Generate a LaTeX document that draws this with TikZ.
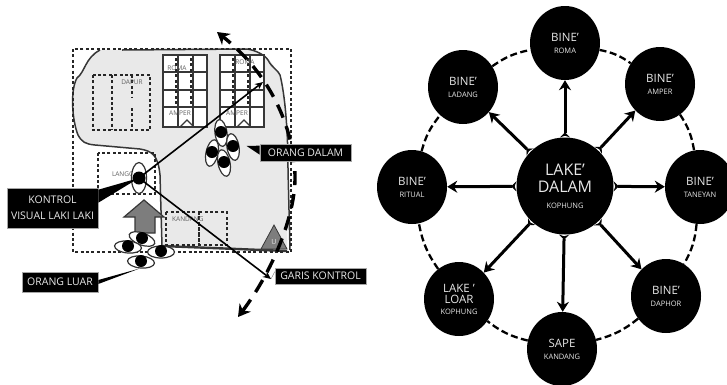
\documentclass[tikz,border=0pt]{standalone}
\usepackage{fontspec}
\setmainfont{Open Sans}
\usetikzlibrary{arrows.meta, shapes.geometric, positioning, calc}
\definecolor{paletext}{RGB}{232,232,232}
\definecolor{wallgray}{RGB}{55,55,55}
\definecolor{yardgray}{RGB}{233,233,233}
\definecolor{markgray}{RGB}{125,125,125}
\newcommand{\sublabel}[1]{{\fontsize{7.5}{8}\selectfont #1}}

\begin{document}
\begin{tikzpicture}[
        x=1pt, y=-1pt,
        bubble/.style={ellipse, fill=black, text=paletext, inner sep=0pt, minimum width=70pt, minimum height=74pt, align=center, font=\fontsize{11.5}{13}\selectfont},
        hub/.style={bubble, minimum width=97pt, minimum height=97pt, font=\fontsize{16}{19}\selectfont},
        arrow/.style={{Stealth[reversed, length=5pt, width=10pt]}-{Stealth[length=10pt, width=12pt]}, line width=3pt},
        ring/.style={dashed, dash pattern=on 7pt off 3.5pt, line width=2.3pt},
        caption/.style={rectangle, fill=black, draw=gray!70, line width=0.6pt, text=paletext, inner sep=0pt, align=center, font=\fontsize{10.5}{16}\selectfont},
        plan/.style={dashed, dash pattern=on 3pt off 2.4pt, line width=1.8pt, color=black!85},
        tag/.style={text=gray!75!black, inner sep=0pt, font=\fontsize{6.5}{7}\selectfont},
        eyering/.style={ellipse, draw=black!80, fill=white, line width=1.2pt, inner sep=0pt, minimum width=12pt, minimum height=27pt},
        sight/.style={-{Stealth[length=8pt, width=7pt]}, line width=1.6pt}
    ]
    \useasboundingbox (0,0) rectangle (727,384);

    % Plan on the left
    \fill[yardgray] (100,50) .. controls (85,58) and (85,72) .. (77,78) .. controls (70,90) and (72,120) .. (78,135)
        .. controls (82,142) and (85,144) .. (95,145) -- (140,149) .. controls (152,151) and (158,155) .. (160,175)
        -- (162,246) -- (287,251) -- (289,170) .. controls (288,130) and (285,95) .. (278,72)
        .. controls (273,65) and (270,60) .. (265,56) -- (247,48) -- cycle;
    \draw[wallgray, line width=1.5pt] (122,50) -- (247,49) .. controls (255,50) and (265,55) .. (268,60)
        .. controls (272,68) and (278,70) .. (280,75) .. controls (285,95) and (288,130) .. (288,170) -- (290,250);
    \draw[wallgray, line width=1.5pt] (100,50) .. controls (85,58) and (85,72) .. (77,78) .. controls (70,90) and (72,120) .. (78,135)
        .. controls (82,142) and (85,144) .. (95,145) -- (140,149) .. controls (152,151) and (158,155) .. (160,175) -- (162,246);
    \draw[wallgray, line width=2.4pt] (162,246) -- (287,251);
    \draw[plan] (73,49) rectangle (291,252);

    % Dapur
    \draw[plan] (93,75) rectangle (150,130);
    \draw[plan] (112,75) -- (112,130);
    \draw[plan] (132,75) -- (132,98);
    \draw[plan] (132,108) -- (132,130);
    \node[tag] (dapur) at (132,82) {DAPUR};

    % Rows of amper
    \foreach \gx in {163,220}{
        \draw[wallgray, line width=1.8pt, fill=white] (\gx,55) rectangle (\gx+44,127);
        \foreach \gy in {72,107}
            \draw[wallgray, line width=1.8pt] (\gx,\gy) -- (\gx+44,\gy);
        \draw[wallgray, line width=1.4pt] (\gx,90) -- (\gx+44,90);
        \foreach \gk in {15,30}
            \draw[wallgray, line width=1.8pt] (\gx+\gk,55) -- (\gx+\gk,127);
        \foreach \gk in {15,30}
            \draw[plan, line width=1.1pt] (\gx+\gk-2,58) -- (\gx+\gk-2,105);
        \draw[wallgray, line width=1.2pt] (\gx+17,127) -- (\gx+24,120) -- (\gx+31,127);
    }
    \node[tag] (ampera) at (180,113) {AMPER};
    \node[tag] (amperb) at (237,113) {AMPER};
    \node[tag] (romaa) at (177,68) {ROMA};
    \node[tag] (romab) at (245,62) {ROMA};

    % Langgar and kandang
    \draw[plan] (98,153) rectangle (155,194);
    \draw[plan] (98,194) -- (98,200);
    \node[tag] (langgar) at (127,174) {LANGGAR};
    \draw[plan] (166,212) rectangle (199,245);
    \draw[plan] (199,212) rectangle (227,245);
    \node[tag, anchor=west] (kandang) at (172,219) {KANDANG};

    % Sumur
    \fill[markgray, draw=wallgray, line width=0.8pt] (274,225) -- (287,249) -- (261,249) -- cycle;
    \node[text=paletext, inner sep=0pt, font=\fontsize{7}{7}\selectfont] (sumur) at (274,242) {U};

    % Entrance
    \path[fill=markgray, draw=wallgray, line width=1.2pt] (144,200) -- (164,217) -- (155,217) -- (155,233) -- (135,233) -- (135,217) -- (124,217) -- cycle;

    % Eyes
    \node[eyering, minimum width=15pt, minimum height=31pt] (kontrolEye) at (139,178) {};
    \fill (139,178) circle (6.5);
    \foreach \ex/\ey/\er/\en in {221/133/8/a, 212/153/-12/b, 233/147/10/c, 224/163/12/d}{
        \node[eyering, rotate=\er] (dalam\en) at (\ex,\ey) {};
        \fill (\ex,\ey-1) circle (6);
    }
    \foreach \ex/\ey/\er/\en in {142/239/70/a, 128/247/85/b, 161/252/90/c, 141/262/85/d}{
        \node[eyering, rotate=\er] (luar\en) at (\ex,\ey) {};
        \fill (\ex,\ey-1) circle (6);
    }

    % Sight lines
    \coordinate (sightTop) at (263,82);
    \coordinate (sightBot) at (271,279);
    \draw[sight] (kontrolEye.center) -- (sightTop);
    \draw[sight] (kontrolEye.center) -- (sightBot);

    % Double arrow round the plan
    \coordinate (routeLow) at (238,317);
    \coordinate (routeMid) at (295,175);
    \coordinate (routeTop) at (217,32);
    \draw[{Stealth[length=12pt, width=14pt]}-{Stealth[length=12pt, width=14pt]}, dashed, dash pattern=on 14pt off 9pt, line width=3.4pt]
        (routeLow) .. controls (272,272) and (296,215) .. (routeMid) .. controls (293,120) and (265,70) .. (routeTop);

    % Captions
    \node[caption, minimum width=91pt, minimum height=40pt] (kontrol) at (52.5,208) {KONTROL\\VISUAL LAKI LAKI};
    \node[caption, minimum width=76pt, minimum height=20pt] (luar) at (60,282) {ORANG LUAR};
    \node[caption, minimum width=91pt, minimum height=17pt] (dalam) at (305.5,152.5) {ORANG DALAM};
    \node[caption, minimum width=91pt, minimum height=16pt] (garis) at (320.5,276) {GARIS KONTROL};

    \fill ([yshift=-2pt]kontrol.north east) -- (kontrolEye.center) -- ([yshift=-15pt]kontrol.north east) -- cycle;
    \fill ([yshift=2pt]luar.east) -- ([xshift=-1pt]luard.west) -- ([yshift=-2pt]luar.east) -- cycle;
    \fill ([yshift=-2pt]dalam.north west) -- ([xshift=7pt]dalamc.east) -- ([yshift=-11pt]dalam.north west) -- cycle;
    \draw[thin, gray] ([yshift=-4pt]garis.north west) -- (sightBot);

    % Ring diagram on the right
    \node[hub] (lake) at (565,186) {LAKE'\\[-2pt]DALAM\\[-3pt]\sublabel{KOPHUNG}};
    \node[bubble] (roma) at (565,43) {BINE'\\[-1pt]\sublabel{ROMA}};
    \node[bubble] (amper) at (660,84) {BINE'\\[-1pt]\sublabel{AMPER}};
    \node[bubble] (taneyan) at (700,187) {BINE'\\[-1pt]\sublabel{TANEYAN}};
    \node[bubble] (daphor) at (666,296) {BINE'\\[-1pt]\sublabel{DAPHOR}};
    \node[bubble] (sape) at (562,349) {SAPE\\[-1pt]\sublabel{KANDANG}};
    \node[bubble] (loar) at (459,299) {LAKE '\\[-2pt]LOAR\\[-2pt]\sublabel{KOPHUNG}};
    \node[bubble] (ritual) at (412,187) {BINE'\\[-1pt]\sublabel{RITUAL}};
    \node[bubble] (ladang) at (463,87) {BINE'\\[-1pt]\sublabel{LADANG}};

    \foreach \nbr in {roma, amper, taneyan, daphor, sape, loar, ritual, ladang}
        \draw[arrow] (lake) -- (\nbr);

    \draw[ring, bend left=12] (roma) to (amper);
    \draw[ring, bend left=12] (amper) to (taneyan);
    \draw[ring, bend left=12] (taneyan) to (daphor);
    \draw[ring, bend left=12] (daphor) to (sape);
    \draw[ring, bend left=12] (sape) to (loar);
    \draw[ring, bend left=12] (loar) to (ritual);
    \draw[ring, bend left=12] (ritual) to (ladang);
    \draw[ring, bend left=12] (ladang) to (roma);
\end{tikzpicture}
\end{document}
